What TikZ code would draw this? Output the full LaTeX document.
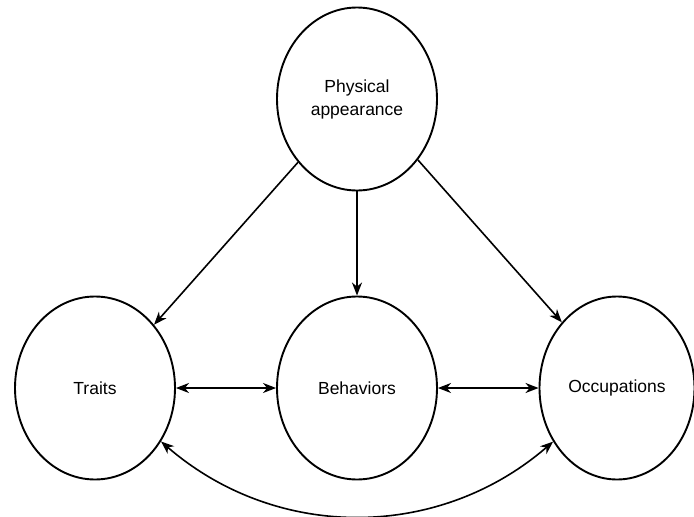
\documentclass[tikz,border=0pt]{standalone}
\usepackage{fontspec}
\setmainfont{Liberation Sans}
\usetikzlibrary{shapes.geometric,arrows.meta}
\begin{document}
\begin{tikzpicture}[x=1pt,y=-1pt,
  oval/.style={ellipse,draw,line width=1.9pt,inner sep=0pt,minimum width=160pt,minimum height=183pt,align=center,font=\fontsize{17.5}{23}\selectfont},
  link/.style={line width=1.6pt,-{Stealth[length=13pt,width=10pt,inset=4pt]}},
  biLink/.style={line width=1.6pt,{Stealth[length=13pt,width=10pt,inset=4pt]}-{Stealth[length=13pt,width=10pt,inset=4pt]}}]
\useasboundingbox (0,0) rectangle (694,517);
\node[oval] (pa) at (357,99) {Physical\\appearance};
\node[oval] (tr) at (95,388) {Traits};
\node[oval] (be) at (357,388) {Behaviors};
\node[oval,minimum width=155pt] (oc) at (617,388) {Occupations};
\draw[link] (pa.-133) -- (tr.47);
\draw[link] (pa.south) -- (be.north);
\draw[link] (pa.-45) -- (oc.130);
\draw[biLink] (tr.east) -- (be.west);
\draw[biLink] (be.east) -- (oc.west);
\draw[biLink] (tr.-39) .. controls (276,541) and (438,541) .. (oc.-140);
\end{tikzpicture}
\end{document}
